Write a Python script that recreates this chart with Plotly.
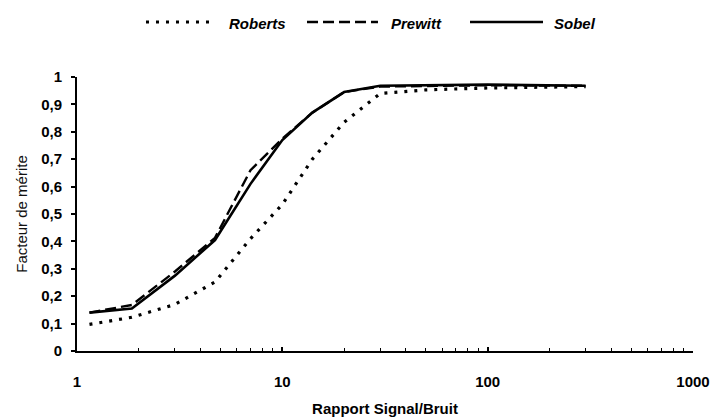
import plotly.graph_objects as go

# Data
snr = [1.15, 1.85, 3, 4.7, 7, 10, 14, 20, 30, 50, 100, 300]
roberts = [0.097, 0.123, 0.17, 0.252, 0.41, 0.535, 0.70, 0.835, 0.94, 0.953, 0.96, 0.965]
prewitt = [0.14, 0.168, 0.29, 0.413, 0.66, 0.775, 0.87, 0.945, 0.965, 0.968, 0.97, 0.968]
sobel = [0.14, 0.155, 0.275, 0.405, 0.61, 0.77, 0.87, 0.945, 0.968, 0.97, 0.972, 0.968]

series_names = ["Roberts", "Prewitt", "Sobel"]
series_values = [roberts, prewitt, sobel]
series_dash = ["3px,7px", "11px,5px", "solid"]
series_width = [3.2, 2.4, 2.6]

y_tickvals = [0, 0.1, 0.2, 0.3, 0.4, 0.5, 0.6, 0.7, 0.8, 0.9, 1]
y_ticktext = ["0", "0,1", "0,2", "0,3", "0,4", "0,5", "0,6", "0,7", "0,8", "0,9", "1"]
x_tickvals = [1, 10, 100, 1000]
x_ticktext = ["1", "10", "100", "1000"]
x_minor_tickvals = [2, 3, 4, 5, 6, 7, 8, 9, 20, 30, 40, 50, 60, 70, 80, 90,
                    200, 300, 400, 500, 600, 700, 800, 900]

FONT = "Liberation Sans, Arial, sans-serif"

fig = go.Figure()
for name, vals, dash, w in zip(series_names, series_values, series_dash, series_width):
    fig.add_trace(go.Scatter(x=snr, y=vals, mode="lines", name=name,
                             line=dict(color="black", width=w, dash=dash),
                             showlegend=False))

# manual legend (wide line samples like the original)
legend_samples = [(0.112, 0.2175), (0.3734, 0.4886), (0.638, 0.7565)]
legend_text_x = [0.2435, 0.5065, 0.771]
for (x0, x1), tx, name, dash, w in zip(legend_samples, legend_text_x, series_names, series_dash, series_width):
    fig.add_shape(type="line", xref="paper", yref="paper", x0=x0, x1=x1, y0=1.2007, y1=1.2007,
                  line=dict(color="black", width=w, dash=dash))
    fig.add_annotation(xref="paper", yref="paper", x=tx, y=1.196, xanchor="left", yanchor="middle",
                       text="<b><i>" + name + "</i></b>", showarrow=False,
                       font=dict(family=FONT, size=15, color="black"))

fig.update_layout(
    width=716, height=420,
    margin=dict(l=77, r=23, t=77, b=69),
    plot_bgcolor="white", paper_bgcolor="white",
    font=dict(family=FONT, color="black"),
    xaxis=dict(type="log", range=[0, 3], tickvals=x_tickvals, ticktext=x_ticktext,
               automargin=False,
               showgrid=False, zeroline=False, showline=True, linecolor="black", linewidth=2,
               ticks="inside", ticklen=4, tickwidth=1.5, tickcolor="black",
               minor=dict(tickvals=x_minor_tickvals, ticks="inside", ticklen=3, tickwidth=1,
                          tickcolor="black", showgrid=False),
               ticklabelstandoff=16,
               tickfont=dict(family=FONT, size=15, color="black", weight="bold"),
               title=dict(text="<b>Rapport Signal/Bruit</b>", font=dict(family=FONT, size=15, color="black"),
                          standoff=14)),
    yaxis=dict(range=[0, 1], tickvals=y_tickvals, ticktext=y_ticktext,
               automargin=False,
               showgrid=False, zeroline=False, showline=True, linecolor="black", linewidth=2,
               ticks="outside", ticklen=4, tickwidth=1.5, tickcolor="black",
               ticklabelstandoff=6,
               tickfont=dict(family=FONT, size=15, color="black", weight="bold"),
               title=dict(text="Facteur de mérite", font=dict(family=FONT, size=15, color="#111111"),
                          standoff=10)),
)

fig.write_html("out.html")
